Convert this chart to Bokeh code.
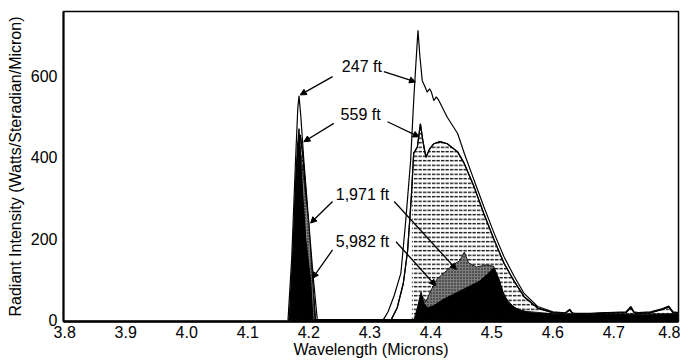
import numpy as np
from bokeh.plotting import figure
from bokeh.models import Range1d, FixedTicker, Arrow, NormalHead, ColumnDataSource
from bokeh.core.properties import value
from bokeh.embed import file_html
from bokeh.resources import INLINE

# ---------------- data ----------------
x_ticks = [3.8, 3.9, 4.0, 4.1, 4.2, 4.3, 4.4, 4.5, 4.6, 4.7, 4.8]
x_tick_labels = ["3.8", "3.9", "4.0", "4.1", "4.2", "4.3", "4.4", "4.5", "4.6", "4.7", "4.8"]
y_ticks = [0, 200, 400, 600]
y_tick_labels = ["0", "200", "400", "600"]

altitudes = ["247 ft", "559 ft", "1,971 ft", "5,982 ft"]

wl_247 = [4.166, 4.172, 4.178, 4.182, 4.184, 4.187, 4.192, 4.200, 4.207, 4.214,
          4.322, 4.330, 4.340, 4.351, 4.359, 4.367, 4.372, 4.376, 4.379, 4.382, 4.386,
          4.390, 4.394, 4.398, 4.401, 4.405, 4.409, 4.413, 4.427, 4.444, 4.455, 4.471,
          4.487, 4.504, 4.520, 4.537, 4.553, 4.575, 4.600, 4.620, 4.628, 4.632, 4.637,
          4.660, 4.690, 4.720, 4.728, 4.733, 4.740, 4.760, 4.780, 4.790, 4.797, 4.806]
ri_247 = [0, 150, 380, 520, 551, 500, 390, 240, 110, 0,
          0, 20, 60, 115, 245, 392, 540, 640, 712, 650, 588,
          575, 560, 568, 560, 539, 548, 540, 498, 458, 409, 343,
          278, 212, 155, 106, 65, 33, 20, 17, 26, 17, 16,
          16, 18, 20, 33, 20, 18, 20, 28, 34, 20, 18]

wl_559 = [4.168, 4.174, 4.180, 4.186, 4.190, 4.196, 4.203, 4.211,
          4.335, 4.345, 4.355, 4.362, 4.368, 4.372, 4.378, 4.383, 4.387, 4.392,
          4.398, 4.405, 4.415, 4.427, 4.444, 4.455, 4.471, 4.487, 4.504, 4.520,
          4.537, 4.553, 4.575, 4.600, 4.620, 4.628, 4.632, 4.637, 4.660, 4.690,
          4.720, 4.728, 4.733, 4.740, 4.760, 4.780, 4.790, 4.797, 4.806]
ri_559 = [0, 160, 380, 455, 410, 300, 150, 0,
          0, 30, 90, 170, 300, 410, 425, 482, 440, 400,
          420, 433, 438, 433, 413, 384, 327, 261, 196, 139,
          94, 57, 29, 18, 16, 24, 16, 15, 15, 17,
          18, 30, 18, 16, 18, 26, 32, 18, 16]

wl_1971 = [4.170, 4.176, 4.181, 4.185, 4.190, 4.200, 4.207, 4.210,
           4.372, 4.378, 4.384, 4.392, 4.400, 4.410, 4.425, 4.436, 4.447, 4.455,
           4.462, 4.475, 4.490, 4.503, 4.512, 4.520, 4.535, 4.550, 4.600, 4.700, 4.806]
ri_1971 = [0, 200, 380, 440, 370, 238, 80, 0,
           0, 30, 62, 45, 72, 100, 120, 135, 145, 167,
           140, 130, 135, 132, 100, 60, 32, 22, 15, 14, 15]

wl_5982 = [4.170, 4.176, 4.181, 4.184, 4.188, 4.195, 4.203, 4.207,
           4.374, 4.380, 4.384, 4.389, 4.395, 4.405, 4.420, 4.440, 4.460, 4.480,
           4.495, 4.503, 4.510, 4.518, 4.527, 4.540, 4.560, 4.600, 4.650, 4.700, 4.750, 4.806]
ri_5982 = [0, 220, 420, 470, 360, 200, 98, 0,
           0, 40, 68, 40, 30, 35, 50, 65, 80, 95,
           115, 128, 105, 70, 42, 28, 18, 14, 13, 13, 12, 14]

# label centres and pointer arrows (wavelength, intensity)
label_wl = [4.287, 4.285, 4.288, 4.288]
label_ri = [624, 504, 307, 192]
arrow_x0 = [4.239, 4.323, 4.241, 4.329, 4.239, 4.340, 4.239, 4.343]
arrow_y0 = [598, 610, 483, 487, 291, 291, 172, 192]
arrow_x1 = [4.186, 4.375, 4.192, 4.381, 4.203, 4.442, 4.206, 4.408]
arrow_y1 = [553, 585, 438, 450, 238, 124, 102, 84]

FONT = "Liberation Sans"


def closed(wl, ri):
    xs = list(wl) + [wl[-1]]
    ys = list(ri) + [0]
    return xs, ys


def hatch_region(wl, ri, edge=4.369):
    wl = np.asarray(wl, float)
    ri = np.asarray(ri, float)
    first = wl < 4.25
    xs = list(wl[first])
    ys = list(ri[first])
    xs += [edge, edge]
    ys += [0, float(np.interp(edge, wl, ri))]
    later = wl > edge
    xs += list(wl[later]) + [wl[-1]]
    ys += list(ri[later]) + [0]
    return xs, ys


p = figure(width=680, height=360, output_backend="svg", toolbar_location=None,
           x_range=Range1d(3.798, 4.806), y_range=Range1d(-4, 758),
           min_border_left=63, min_border_right=2, min_border_top=11, min_border_bottom=38,
           background_fill_color="white", border_fill_color="white")
p.grid.visible = False
p.outline_line_color = "black"
p.outline_line_width = 1.5

# 247 ft : outline only
x, y = closed(wl_247, ri_247)
p.patch(x, y, fill_color="white", line_color="black", line_width=1.2)

# 559 ft : outline + dashed hatch
x, y = closed(wl_559, ri_559)
p.patch(x, y, fill_color="white", line_color="black", line_width=1.2)
hx, hy = hatch_region(wl_559, ri_559)
p.patch(hx, hy, fill_alpha=0, line_alpha=0, hatch_pattern="horizontal_dash",
        hatch_color="black", hatch_scale=4.5, hatch_weight=1.3)
p.line(wl_559, ri_559, line_color="black", line_width=1.2)

# 1,971 ft : stippled grey
x, y = closed(wl_1971, ri_1971)
p.patch(x, y, fill_color="#7c7c7c", line_color="black", line_width=0.8,
        hatch_pattern="dot", hatch_color="#111111", hatch_scale=3, hatch_weight=1)

# 5,982 ft : solid black
x, y = closed(wl_5982, ri_5982)
p.patch(x, y, fill_color="black", line_color="black", line_width=1)

# labels
p.text(x=label_wl, y=label_ri, text=altitudes, text_font=value(FONT),
       text_font_size="16px", text_align="center", text_baseline="middle", text_color="black")

arrow_src = ColumnDataSource(dict(x0=arrow_x0, y0=arrow_y0, x1=arrow_x1, y1=arrow_y1))
p.add_layout(Arrow(source=arrow_src, x_start="x0", y_start="y0", x_end="x1", y_end="y1",
                   line_width=1.3, line_color="black",
                   end=NormalHead(size=6, fill_color="black", line_color="black")))

# axes
p.xaxis.ticker = FixedTicker(ticks=x_ticks)
p.xaxis.major_label_overrides = {t: l for t, l in zip(x_ticks, x_tick_labels)}
p.yaxis.ticker = FixedTicker(ticks=y_ticks)
p.yaxis.major_label_overrides = {t: l for t, l in zip(y_ticks, y_tick_labels)}

for ax in (p.xaxis[0], p.yaxis[0]):
    ax.major_tick_line_color = None
    ax.minor_tick_line_color = None
    ax.major_tick_out = 0
    ax.major_tick_in = 0
    ax.axis_line_color = "black"
    ax.major_label_text_font = FONT
    ax.major_label_text_font_size = "16px"
    ax.major_label_text_color = "black"
    ax.axis_label_text_font = FONT
    ax.axis_label_text_font_size = "16px"
    ax.axis_label_text_font_style = "normal"
    ax.axis_label_text_color = "black"

p.xaxis.axis_label = "Wavelength (Microns)"
p.xaxis.axis_line_width = 2.5
p.xaxis.major_label_standoff = 4
p.xaxis.axis_label_standoff = 0
p.yaxis.axis_label = "Radiant Intensity (Watts/Steradian/Micron)"
p.yaxis.axis_line_width = 2
p.yaxis.major_label_standoff = 6
p.yaxis.axis_label_standoff = 4

open("out.html", "w").write(file_html(p, INLINE))
